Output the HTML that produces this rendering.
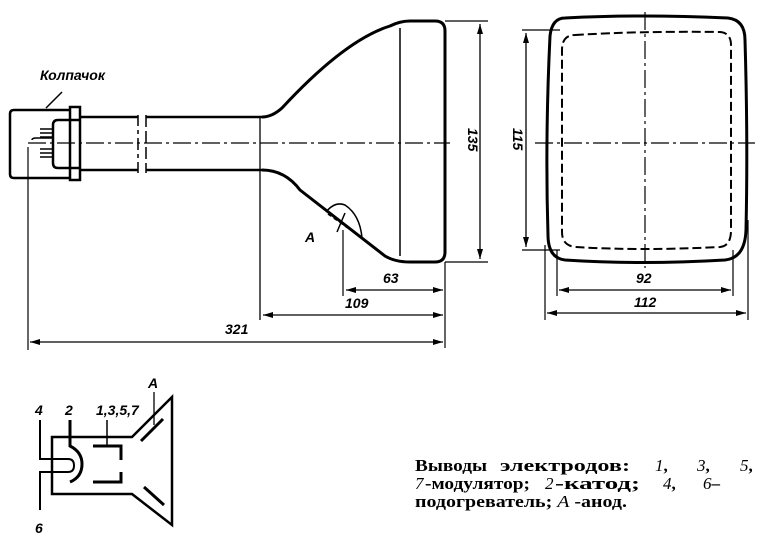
<!DOCTYPE html>
<html><head><meta charset="utf-8"><style>
html,body{margin:0;padding:0;background:#fff;}
svg{display:block;}
.t{font-family:"Liberation Sans",sans-serif;font-style:italic;font-weight:bold;font-size:14px;fill:#000;}
.s{font-family:"Liberation Serif","DejaVu Serif",serif;font-size:17px;font-weight:bold;fill:#000;}
.i{font-style:italic;font-weight:normal;}
</style></head><body>
<svg width="780" height="540" viewBox="0 0 780 540" xmlns="http://www.w3.org/2000/svg">
<defs>
<marker id="a" viewBox="0 0 10 6" refX="10" refY="3" markerWidth="10" markerHeight="6" orient="auto-start-reverse" markerUnits="userSpaceOnUse"><path d="M0,0 L10,3 L0,6 z" fill="#000"/></marker>
</defs>
<g fill="none" stroke="#000">
<path d="M70,110 H14 Q10,110 10,114 V174 Q10,178 14,178 H70" stroke-width="2.5"/>
<path d="M70,107 H80 V180 H70 Z" stroke-width="2.5"/>
<path d="M80,120 H58 Q53,120 53,125 V163 Q53,168 58,168 H80" stroke-width="2.5"/>
<path d="M40,129 H53 M40,133 H53 M40,137 H53 M40,149 H53 M40,153 H53 M40,157 H53" stroke-width="1.5"/>
<path d="M32,140 Q32,138 36,138 H53" stroke-width="1.5"/>
<path d="M46,108 L62,92" stroke-width="1.5"/>
<path d="M80,117 H138 M146,117 H262 M80,170 H138 M146,170 H262" stroke-width="2.5"/>
<path d="M138,115 V126 M138,130 V134 M138,138 V150 M138,154 V158 M138,162 V173" stroke-width="1.5"/>
<path d="M146,115 V173" stroke-width="1.5" stroke-dasharray="12,4"/>
<path d="M262,117 Q272,117 282,108 Q345,40 390,26 Q400,21 410,21 H435 Q445,21 445,31 V252 Q445,262 435,262 H410 Q395,262 385,256 L300,190 Q285,170 262,170" stroke-width="3"/>
<path d="M260,117 V320" stroke-width="1.3"/>
<path d="M400,28 V256" stroke-width="1.5"/>
<path d="M28,143 H450" stroke-width="1.2" stroke-dasharray="18,4,3,4"/>
<path d="M326,212 Q335,201 345,205 Q360,215 362,238" stroke-width="1.5"/>
<path d="M328,214 L362,238" stroke-width="1.5" stroke-dasharray="4,3"/>
<path d="M345,213 L337,232" stroke-width="1.5"/>
<path d="M445,21 H488 M445,262 H488" stroke-width="1.2"/>
<path d="M480,24 V259" stroke-width="1.3" marker-start="url(#a)" marker-end="url(#a)"/>
<path d="M343,230 V296" stroke-width="1.2"/>
<path d="M445,262 V348" stroke-width="1.2"/>
<path d="M346,290 H443" stroke-width="1.3" marker-start="url(#a)" marker-end="url(#a)"/>
<path d="M263,315 H443" stroke-width="1.3" marker-start="url(#a)" marker-end="url(#a)"/>
<path d="M28,147 V350" stroke-width="1.2"/>
<path d="M30,342 H443" stroke-width="1.3" marker-start="url(#a)" marker-end="url(#a)"/>
<path d="M565,18 Q640,14 728,18 Q745,20 745,40 Q748,140 746,230 Q745,258 725,260 Q640,265 565,260 Q548,258 548,235 Q545,140 550,36 Q552,18 565,18 Z" stroke-width="3"/>
<path d="M575,35 Q640,31 720,32 Q731,33 731,45 V230 Q731,246 720,247 Q640,251 576,247 Q562,246 562,232 V50 Q562,35 575,35 Z" stroke-width="2" stroke-dasharray="9,4"/>
<path d="M645,12 V268" stroke-width="1.2" stroke-dasharray="18,4,3,4"/>
<path d="M535,143 H755" stroke-width="1.2" stroke-dasharray="18,4,3,4"/>
<path d="M522,30 H560 M522,250 H560" stroke-width="1.2"/>
<path d="M526,33 V247" stroke-width="1.3" marker-start="url(#a)" marker-end="url(#a)"/>
<path d="M557,250 V296 M733,250 V296 M545,245 V320 M748,220 V320" stroke-width="1.2"/>
<path d="M559,290 H731" stroke-width="1.3" marker-start="url(#a)" marker-end="url(#a)"/>
<path d="M547,313 H746" stroke-width="1.3" marker-start="url(#a)" marker-end="url(#a)"/>
<path d="M52,437 H132 L172,397 V525 L132,494 H52 Z" stroke-width="2.5"/>
<path d="M141,441 L163,419 M144,487 L164,505" stroke-width="3"/>
<path d="M154,392 V425" stroke-width="1.3"/>
<path d="M40,420 V459 H68 Q74,459 74,465.5 Q74,472 68,472 H40 V510" stroke-width="2"/>
<path d="M70,420 V446 Q82,452 82,464 Q82,477 70,482" stroke-width="3"/>
<path d="M107,420 V446" stroke-width="1.5"/>
<path d="M93,446 H121 V460 M121,472 V482 H93" stroke-width="3"/>
</g>
<text class="t" x="40" y="80" font-size="12">Колпачок</text>
<text class="t" x="305" y="242">A</text>
<text class="t" x="383" y="283">63</text>
<text class="t" x="345" y="308">109</text>
<text class="t" x="225" y="334">321</text>
<text class="t" transform="translate(468,128) rotate(90)">135</text>
<text class="t" transform="translate(513,128) rotate(90)">115</text>
<text class="t" x="636" y="283">92</text>
<text class="t" x="634" y="307">112</text>
<text class="t" x="148" y="388">A</text>
<text class="t" x="35" y="415">4</text>
<text class="t" x="65" y="415">2</text>
<text class="t" x="96" y="415">1,3,5,7</text>
<text class="t" x="35" y="533">6</text>
<g class="s">
<text x="415" y="471" textLength="72" lengthAdjust="spacingAndGlyphs">Выводы</text>
<text x="500" y="471" textLength="130" lengthAdjust="spacingAndGlyphs">электродов:</text>
<text x="655" y="471"><tspan class="i">1</tspan>,</text>
<text x="697" y="471"><tspan class="i">3</tspan>,</text>
<text x="740" y="471"><tspan class="i">5</tspan>,</text>
<text x="415" y="489" class="i">7</text>
<text x="425" y="489" textLength="105" lengthAdjust="spacingAndGlyphs">-модулятор;</text>
<text x="545" y="489" class="i">2</text>
<text x="555" y="489" textLength="85" lengthAdjust="spacingAndGlyphs">-катод;</text>
<text x="663" y="489"><tspan class="i">4</tspan>,</text>
<text x="703" y="489"><tspan class="i">6</tspan>–</text>
<text x="415" y="507" textLength="212" lengthAdjust="spacingAndGlyphs">подогреватель; <tspan class="i">A</tspan> -анод.</text>
</g>
</svg>
</body></html>
